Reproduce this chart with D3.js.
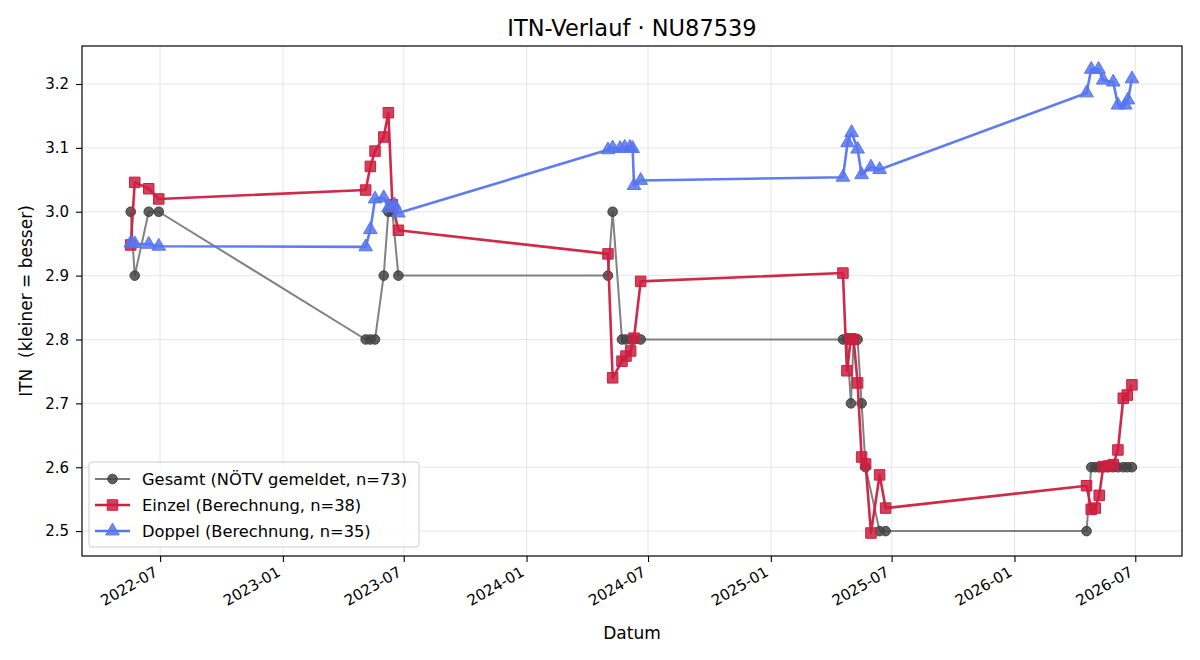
<html>
<head>
<meta charset="utf-8">
<script src="https://d3js.org/d3.v7.min.js"></script>
<style>
body { margin: 0; background: #fff; }
text { font-family: "DejaVu Sans", sans-serif; }
</style>
</head>
<body>
<svg id="chart" width="1200" height="660"></svg>
<script>
// data
const gesamtDates = ['2022-05-18','2022-05-24','2022-06-14','2022-06-29',
  '2023-05-05','2023-05-12','2023-05-19','2023-06-01','2023-06-08','2023-06-14','2023-06-23',
  '2024-05-02','2024-05-09','2024-05-23','2024-05-29','2024-06-05','2024-06-10','2024-06-20',
  '2025-04-19','2025-04-25','2025-05-01','2025-05-05','2025-05-11','2025-05-17','2025-05-23','2025-06-13','2025-06-22',
  '2026-04-19','2026-04-26','2026-05-02','2026-05-08','2026-05-14','2026-05-22','2026-05-29','2026-06-05','2026-06-13','2026-06-19','2026-06-26'];
const gesamtVals = [3.0,2.9,3.0,3.0,
  2.8,2.8,2.8,2.9,3.0,3.0,2.9,
  2.9,3.0,2.8,2.8,2.8,2.8,2.8,
  2.8,2.8,2.7,2.8,2.8,2.7,2.6,2.5,2.5,
  2.5,2.6,2.6,2.6,2.6,2.6,2.6,2.6,2.6,2.6,2.6];

const einzelDates = ['2022-05-18','2022-05-24','2022-06-14','2022-06-29',
  '2023-05-05','2023-05-12','2023-05-19','2023-06-01','2023-06-08','2023-06-14','2023-06-23',
  '2024-05-02','2024-05-09','2024-05-23','2024-05-29','2024-06-05','2024-06-10','2024-06-20',
  '2025-04-19','2025-04-25','2025-05-01','2025-05-05','2025-05-11','2025-05-17','2025-05-23','2025-05-31','2025-06-13','2025-06-22',
  '2026-04-19','2026-04-26','2026-05-02','2026-05-08','2026-05-14','2026-05-22','2026-05-29','2026-06-05','2026-06-13','2026-06-19','2026-06-26'];
const einzelVals = [2.948,3.046,3.036,3.020,
  3.034,3.071,3.095,3.117,3.155,3.011,2.971,
  2.934,2.740,2.766,2.774,2.782,2.802,2.891,
  2.904,2.751,2.801,2.800,2.732,2.616,2.605,2.497,2.588,2.536,
  2.571,2.534,2.536,2.556,2.601,2.602,2.604,2.627,2.708,2.713,2.729];

const doppelDates = ['2022-05-18','2022-05-24','2022-06-14','2022-06-29',
  '2023-05-05','2023-05-12','2023-05-19','2023-06-01','2023-06-08','2023-06-17','2023-06-23',
  '2024-05-02','2024-05-09','2024-05-20','2024-05-27','2024-06-04','2024-06-08','2024-06-10','2024-06-20',
  '2025-04-19','2025-04-26','2025-05-02','2025-05-11','2025-05-17','2025-05-31','2025-06-13',
  '2026-04-19','2026-04-26','2026-05-07','2026-05-14','2026-05-29','2026-06-05','2026-06-16','2026-06-20','2026-06-26'];
const doppelVals = [2.951,2.950,2.949,2.946,
  2.945,2.972,3.020,3.022,3.006,3.011,2.998,
  3.097,3.100,3.099,3.101,3.101,3.099,3.041,3.049,
  3.054,3.108,3.124,3.098,3.058,3.070,3.066,
  3.186,3.223,3.223,3.206,3.203,3.167,3.167,3.175,3.208];

const yTicks = [2.5,2.6,2.7,2.8,2.9,3.0,3.1,3.2];

const parse = d3.utcParse('%Y-%m-%d');
function rows(dates, vals) { return dates.map((d, i) => ({ date: parse(d), v: vals[i] })); }

const series = [
  { label: 'Gesamt (NÖTV gemeldet, n=73)', data: rows(gesamtDates, gesamtVals), line: '#7a7a7a', fill: '#444444', width: 2, marker: d3.symbolCircle, size: 72 },
  { label: 'Einzel (Berechnung, n=38)', data: rows(einzelDates, einzelVals), line: '#cc1f3f', fill: '#cc1f3f', width: 2.6, marker: d3.symbolSquare, size: 110 },
  { label: 'Doppel (Berechnung, n=35)', data: rows(doppelDates, doppelVals), line: '#5675f0', fill: '#5675f0', width: 2.6, marker: d3.symbolTriangle, size: 80 }
];

const mLeft = 82, mTop = 46, w = 1100, h = 510;
const svg = d3.select('#chart');

const x = d3.scaleUtc()
  .domain([parse('2022-03-06'), parse('2026-09-09')])
  .range([0, w]);
const y = d3.scaleLinear()
  .domain([2.461, 3.2595])
  .range([h, 0]);

const g = svg.append('g').attr('transform', 'translate(' + mLeft + ',' + mTop + ')');

// grid
const xTicks = x.ticks(d3.utcMonth.every(6));
g.append('g').selectAll('line').data(xTicks).enter().append('line')
  .attr('x1', d => x(d)).attr('x2', d => x(d))
  .attr('y1', 0).attr('y2', h)
  .attr('stroke', '#e3e3e3').attr('stroke-width', 0.9);
g.append('g').selectAll('line').data(yTicks).enter().append('line')
  .attr('x1', 0).attr('x2', w)
  .attr('y1', d => y(d)).attr('y2', d => y(d))
  .attr('stroke', '#e3e3e3').attr('stroke-width', 0.9);

// axes
const xAxis = g.append('g')
  .attr('transform', 'translate(0,' + h + ')')
  .call(d3.axisBottom(x).tickValues(xTicks).tickFormat(d3.utcFormat('%Y-%m')).tickSizeOuter(0).tickSize(6));
xAxis.selectAll('text')
  .attr('font-size', 15)
  .attr('fill', '#000')
  .style('text-anchor', 'end')
  .attr('x', -11).attr('y', 15.5)
  .attr('dx', 0).attr('dy', 0)
  .attr('transform', 'rotate(-30)');

const yAxis = g.append('g')
  .call(d3.axisLeft(y).tickValues(yTicks).tickFormat(d3.format('.1f')).tickSizeOuter(0).tickSize(6).tickPadding(7));
yAxis.selectAll('text').attr('font-size', 15).attr('fill', '#000');
g.selectAll('.domain').remove();
g.selectAll('.tick line').attr('stroke', '#000').attr('stroke-width', 1.1);

g.append('rect')
  .attr('width', w).attr('height', h)
  .attr('fill', 'none').attr('stroke', '#000').attr('stroke-width', 1.2);

// lines and markers
const line = d3.line().x(d => x(d.date)).y(d => y(d.v));
series.forEach(s => {
  g.append('path')
    .datum(s.data)
    .attr('d', line)
    .attr('fill', 'none')
    .attr('stroke', s.line)
    .attr('stroke-width', s.width)
    .attr('stroke-linejoin', 'round')
    .attr('opacity', 0.95);
  g.append('g').selectAll('path').data(s.data).enter().append('path')
    .attr('d', d3.symbol().type(s.marker).size(s.size))
    .attr('transform', d => 'translate(' + x(d.date) + ',' + y(d.v) + ')')
    .attr('fill', s.fill)
    .attr('fill-opacity', 0.85)
    .attr('stroke', s.fill)
    .attr('stroke-width', 1);
});

// titles
svg.append('text')
  .attr('x', mLeft + w / 2).attr('y', 36)
  .attr('text-anchor', 'middle').attr('font-size', 22.5)
  .text('ITN-Verlauf · NU87539');
svg.append('text')
  .attr('x', mLeft + w / 2).attr('y', 639)
  .attr('text-anchor', 'middle').attr('font-size', 17)
  .text('Datum');
svg.append('text')
  .attr('transform', 'translate(32,' + (mTop + h / 2) + ') rotate(-90)')
  .attr('text-anchor', 'middle').attr('font-size', 17)
  .attr('xml:space', 'preserve')
  .style('white-space', 'pre')
  .text('ITN  (kleiner = besser)');

// legend
const lg = svg.append('g').attr('transform', 'translate(89,462)');
lg.append('rect')
  .attr('width', 330).attr('height', 85).attr('rx', 3)
  .attr('fill', '#fff').attr('fill-opacity', 0.8)
  .attr('stroke', '#cccccc');
series.forEach((s, i) => {
  const yy = 17 + i * 26;
  lg.append('line')
    .attr('x1', 6).attr('x2', 41).attr('y1', yy).attr('y2', yy)
    .attr('stroke', s.line).attr('stroke-width', s.width);
  lg.append('path')
    .attr('d', d3.symbol().type(s.marker).size(s.size))
    .attr('transform', 'translate(23.5,' + yy + ')')
    .attr('fill', s.fill).attr('fill-opacity', 0.85).attr('stroke', s.fill);
  lg.append('text')
    .attr('x', 53).attr('y', yy + 6)
    .attr('font-size', 16.3)
    .text(s.label);
});
</script>
</body>
</html>
